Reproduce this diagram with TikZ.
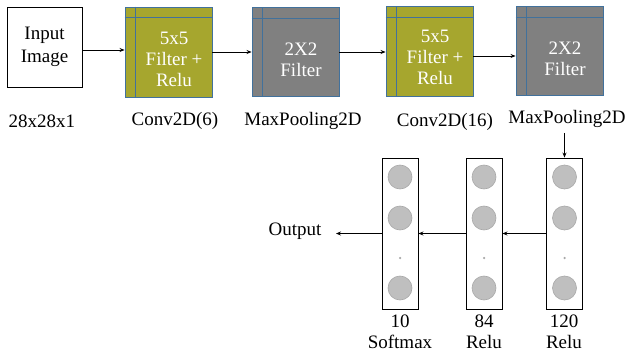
\documentclass[tikz,border=0pt]{standalone}
\usepackage{fontspec}
\setmainfont{Liberation Serif}
\usetikzlibrary{arrows.meta}
\definecolor{olivef}{RGB}{166,166,46}
\definecolor{grayf}{RGB}{128,128,128}
\definecolor{bordb}{RGB}{65,113,156}
\definecolor{circf}{RGB}{191,191,191}
\definecolor{circd}{RGB}{168,168,168}
\begin{document}
\begin{tikzpicture}[x=1pt,y=-1pt,
  font=\fontsize{19}{21}\selectfont,
  arr/.style={-{Stealth[length=5pt,width=4pt]},line width=0.7pt},
  inbox/.style={draw,line width=0.9pt,minimum width=75pt,minimum height=80pt,inner sep=0pt,align=center},
  convbox/.style={draw=bordb,fill=olivef,line width=0.9pt,minimum width=87pt,minimum height=90pt,inner sep=0pt},
  poolbox/.style={draw=bordb,fill=grayf,line width=0.9pt,minimum width=87pt,minimum height=89pt,inner sep=0pt},
  boxtext/.style={text=white,align=center,inner sep=0pt},
  fcbox/.style={draw,line width=0.9pt,minimum width=36pt,minimum height=151pt,inner sep=0pt},
  neuron/.style={circle,fill=circf,draw=circd,line width=0.6pt,minimum size=24pt,inner sep=0pt},
  dotn/.style={circle,fill=circd,minimum size=2.5pt,inner sep=0pt},
  lab/.style={inner sep=0pt,align=center}]
\useasboundingbox (0,0) rectangle (627,353);

% top row boxes
\node[inbox] (in) at (44.5,47) {Input\\[2pt]Image};

\node[convbox] (c1) at (168.5,52) {};
\draw[bordb,line width=0.9pt] ([xshift=11pt]c1.north west) -- ([xshift=11pt]c1.south west);
\draw[bordb,line width=0.9pt] ([yshift=-11pt]c1.north west) -- ([yshift=-11pt]c1.north east);
\node[boxtext] (t1) at (174,59) {5x5\\Filter +\\Relu};

\node[poolbox] (g1) at (295.5,52) {};
\draw[bordb,line width=0.9pt] ([xshift=11pt]g1.north west) -- ([xshift=11pt]g1.south west);
\draw[bordb,line width=0.9pt] ([yshift=-11pt]g1.north west) -- ([yshift=-11pt]g1.north east);
\node[boxtext] (t2) at (301,60) {2X2\\Filter};

\node[convbox] (c2) at (429.5,51.5) {};
\draw[bordb,line width=0.9pt] ([xshift=11pt]c2.north west) -- ([xshift=11pt]c2.south west);
\draw[bordb,line width=0.9pt] ([yshift=-11pt]c2.north west) -- ([yshift=-11pt]c2.north east);
\node[boxtext] (t3) at (435,57) {5x5\\Filter +\\Relu};

\node[poolbox] (g2) at (559.5,51) {};
\draw[bordb,line width=0.9pt] ([xshift=11pt]g2.north west) -- ([xshift=11pt]g2.south west);
\draw[bordb,line width=0.9pt] ([yshift=-11pt]g2.north west) -- ([yshift=-11pt]g2.north east);
\node[boxtext] (t4) at (565,59) {2X2\\Filter};

% top row arrows
\draw[arr] (in.east |- 0,50) -- (c1.west |- 0,50);
\draw[arr] (c1.east) -- (g1.west |- c1.east);
\draw[arr] (g1.east) -- (c2.west |- g1.east);
\draw[arr] (c2.east |- 0,56) -- (g2.west |- 0,56);

% top row labels
\node[lab] (l0) at (42,121) {28x28x1};
\node[lab] (l1) at (175,121) {Conv2D(6)};
\node[lab] (l2) at (303,121) {MaxPooling2D};
\node[lab] (l3) at (445,122) {Conv2D(16)};
\node[lab] (l4) at (567,119) {MaxPooling2D};

% fully connected layers
\node[fcbox] (f1) at (400,233.5) {};
\node[fcbox] (f2) at (484,233.5) {};
\node[fcbox] (f3) at (564.5,233.5) {};
\foreach \f in {f1,f2,f3}{
  \node[neuron] (\f a) at (\f |- 0,177) {};
  \node[neuron] (\f b) at (\f |- 0,218) {};
  \node[dotn] (\f d) at (\f |- 0,258) {};
  \node[neuron] (\f c) at (\f |- 0,288) {};
}

% arrows to/among FC
\draw[arr] (f3.north |- l4.south) ++(0,5) coordinate (ds) (ds) -- (f3.north);
\draw[arr] (f3.west) -- (f2.east);
\draw[arr] (f2.west) -- (f1.east);
\node[lab] (out) at (295,231) {Output};
\coordinate (oe) at (336,233.5);
\draw[arr] (f1.west) -- (oe);

% FC labels
\node[lab] (n1) at (400,321) {10};
\node[lab] (s1) at (400,342) {Softmax};
\node[lab] (n2) at (484,321) {84};
\node[lab] (s2) at (484,342) {Relu};
\node[lab] (n3) at (564,321) {120};
\node[lab] (s3) at (564,342) {Relu};
\end{tikzpicture}
\end{document}
